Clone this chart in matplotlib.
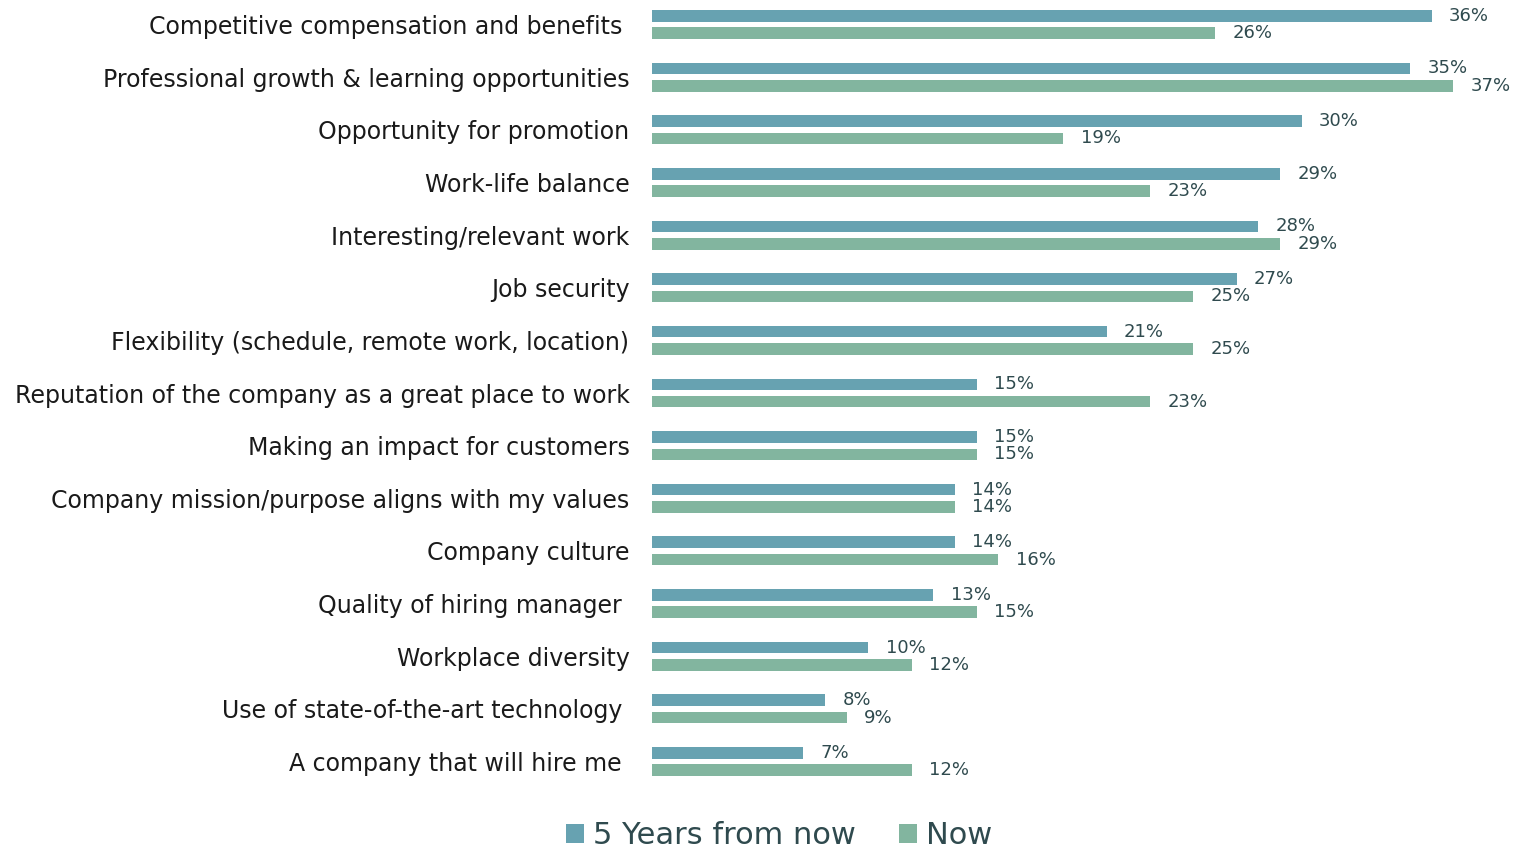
import matplotlib.pyplot as plt
import numpy as np

categories = [
    "Competitive compensation and benefits ",
    "Professional growth & learning opportunities",
    "Opportunity for promotion",
    "Work-life balance",
    "Interesting/relevant work",
    "Job security",
    "Flexibility (schedule, remote work, location)",
    "Reputation of the company as a great place to work",
    "Making an impact for customers",
    "Company mission/purpose aligns with my values",
    "Company culture",
    "Quality of hiring manager ",
    "Workplace diversity",
    "Use of state-of-the-art technology ",
    "A company that will hire me ",
]
five_years = [36, 35, 30, 29, 28, 27, 21, 15, 15, 14, 14, 13, 10, 8, 7]
now = [26, 37, 19, 23, 29, 25, 25, 23, 15, 14, 16, 15, 12, 9, 12]

blue = "#67A2B1"
green = "#82B59F"
text_col = "#2F4A4E"

plt.rcParams['font.family'] = ['DejaVu Sans']

fig = plt.figure(figsize=(15.19, 8.57), dpi=100)
ax = fig.add_axes([0.429, 0.0807, 0.562, 0.9214])

y = np.arange(len(categories))
off = 0.165
h = 0.22
ax.barh(y - off, five_years, height=h, color=blue, label="5 Years from now")
ax.barh(y + off, now, height=h, color=green, label="Now")

for yi, v in zip(y, five_years):
    ax.text(v + 0.8, yi - off, f"{v}%", va='center', ha='left',
            fontsize=13, color=text_col, clip_on=False)
for yi, v in zip(y, now):
    ax.text(v + 0.8, yi + off, f"{v}%", va='center', ha='left',
            fontsize=13, color=text_col, clip_on=False)

ax.set_xlim(0, 39.4)
ax.set_ylim(14.5, -0.5)
ax.set_yticks(y)
ax.set_yticklabels(categories, fontsize=17, color="#1a1a1a")
ax.tick_params(axis='y', length=0, pad=16)
ax.set_xticks([])
for s in ax.spines.values():
    s.set_visible(False)

fig.legend(loc='lower center', bbox_to_anchor=(0.513, -0.024), ncol=2,
           frameon=False, fontsize=22, handlelength=0.6, handleheight=0.6,
           handletextpad=0.3, columnspacing=1.4, labelcolor=text_col)

fig.savefig("out.png", dpi=100)
